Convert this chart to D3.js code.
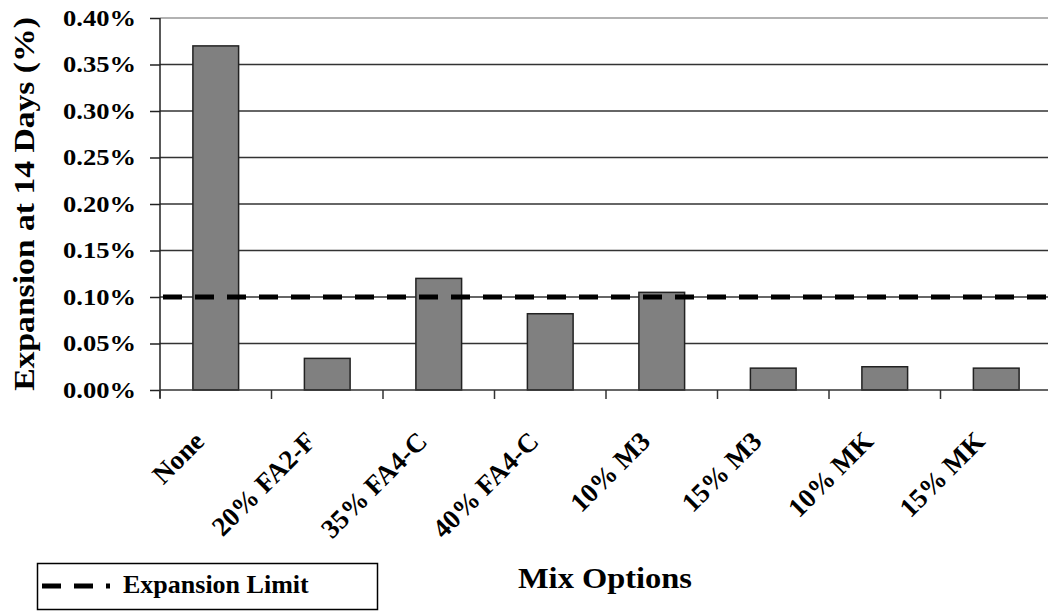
<!DOCTYPE html>
<html>
<head>
<meta charset="utf-8">
<script src="https://cdn.jsdelivr.net/npm/d3@7"></script>
<style>
  body { margin: 0; background: #fff; }
  text { font-family: "Liberation Serif", "Times New Roman", serif; font-weight: bold; fill: #000; }
</style>
</head>
<body>
<div id="chart"></div>
<script>
var width = 1048, height = 612;

var categories = ["None", "20% FA2-F", "35% FA4-C", "40% FA4-C", "10% M3", "15% M3", "10% MK", "15% MK"];
var expansion = [0.370, 0.034, 0.120, 0.082, 0.105, 0.0235, 0.025, 0.0235];
var limitValue = 0.10;
var yTicks = [0, 0.05, 0.10, 0.15, 0.20, 0.25, 0.30, 0.35, 0.40];

var margin = {left: 160, top: 18, right: -4, bottom: 222};

var svg = d3.select("#chart").append("svg")
  .attr("width", width)
  .attr("height", height);

var x = d3.scaleBand()
  .domain(categories)
  .range([margin.left, width - margin.right])
  .paddingInner(0.59)
  .paddingOuter(0.295);

var y = d3.scaleLinear()
  .domain([0, 0.40])
  .range([height - margin.bottom, margin.top]);

// gridlines
svg.append("g")
  .selectAll("line")
  .data(yTicks.slice(1))
  .enter().append("line")
    .attr("x1", margin.left)
    .attr("x2", width)
    .attr("y1", function (d) { return y(d); })
    .attr("y2", function (d) { return y(d); })
    .style("stroke", function (d) { return d === 0.40 ? "#999" : "#333"; })
    .style("stroke-width", 1.5);

// bars
svg.append("g")
  .selectAll("rect")
  .data(expansion)
  .enter().append("rect")
    .attr("x", function (d, i) { return x(categories[i]); })
    .attr("y", function (d) { return y(d); })
    .attr("width", x.bandwidth())
    .attr("height", function (d) { return y(0) - y(d); })
    .style("fill", "#808080")
    .style("stroke", "#222")
    .style("stroke-width", 1.5);

// expansion limit
svg.append("line")
  .attr("x1", margin.left + 3)
  .attr("x2", width)
  .attr("y1", y(limitValue))
  .attr("y2", y(limitValue))
  .style("stroke", "#000")
  .style("stroke-width", 5)
  .style("stroke-dasharray", "19,13");

// y axis: line + ticks
var yAxis = svg.append("g")
  .attr("transform", "translate(" + margin.left + ",0)")
  .call(d3.axisLeft(y).tickValues(yTicks).tickSize(10).tickFormat(""));
yAxis.select(".domain").remove();
yAxis.append("line")
  .attr("y1", y(0.40)).attr("y2", y(0) + 8)
  .style("stroke", "#222").style("stroke-width", 1.5);
yAxis.selectAll(".tick line").style("stroke", "#222").style("stroke-width", 1.5);

// y tick labels (wide bold serif)
svg.append("g")
  .selectAll("text")
  .data(yTicks)
  .enter().append("text")
    .attr("transform", function (d) { return "translate(136," + y(d) + ") scale(1.18,1)"; })
    .attr("text-anchor", "end")
    .attr("dy", "0.34em")
    .style("font-size", "22.5px")
    .text(function (d) { return d.toFixed(2) + "%"; });

// x axis baseline and ticks between categories
svg.append("line")
  .attr("x1", margin.left).attr("x2", width)
  .attr("y1", y(0)).attr("y2", y(0))
  .style("stroke", "#333").style("stroke-width", 1.5);

var step = x.step();
svg.append("g")
  .selectAll("line")
  .data(categories)
  .enter().append("line")
    .attr("x1", function (d) { return x(d) + x.bandwidth() / 2 - step / 2; })
    .attr("x2", function (d) { return x(d) + x.bandwidth() / 2 - step / 2; })
    .attr("y1", y(0))
    .attr("y2", y(0) + 9)
    .style("stroke", "#333").style("stroke-width", 1.5);

// category labels
svg.append("g")
  .selectAll("text")
  .data(categories)
  .enter().append("text")
    .attr("transform", function (d) {
      return "translate(" + (x(d) + x.bandwidth() / 2 - 10) + "," + (y(0) + 53) + ") rotate(-45)";
    })
    .attr("text-anchor", "end")
    .style("font-size", "27px")
    .text(function (d) { return d; });

// axis titles
svg.append("text")
  .attr("transform", "translate(34," + ((y(0.40) + y(0)) / 2) + ") rotate(-90) scale(1.16,1)")
  .attr("text-anchor", "middle")
  .style("font-size", "29px")
  .text("Expansion at 14 Days (%)");

svg.append("text")
  .attr("transform", "translate(605,588) scale(1.12,1)")
  .attr("text-anchor", "middle")
  .style("font-size", "29px")
  .text("Mix Options");

// legend
var legend = svg.append("g");
legend.append("rect")
  .attr("x", 37.5).attr("y", 563.5)
  .attr("width", 340).attr("height", 46)
  .style("fill", "none").style("stroke", "#000").style("stroke-width", 1.5);
legend.append("line")
  .attr("x1", 42).attr("x2", 110)
  .attr("y1", 586).attr("y2", 586)
  .style("stroke", "#000").style("stroke-width", 5)
  .style("stroke-dasharray", "19,13");
legend.append("text")
  .attr("x", 123).attr("y", 593)
  .style("font-size", "26px")
  .text("Expansion Limit");
</script>
</body>
</html>
